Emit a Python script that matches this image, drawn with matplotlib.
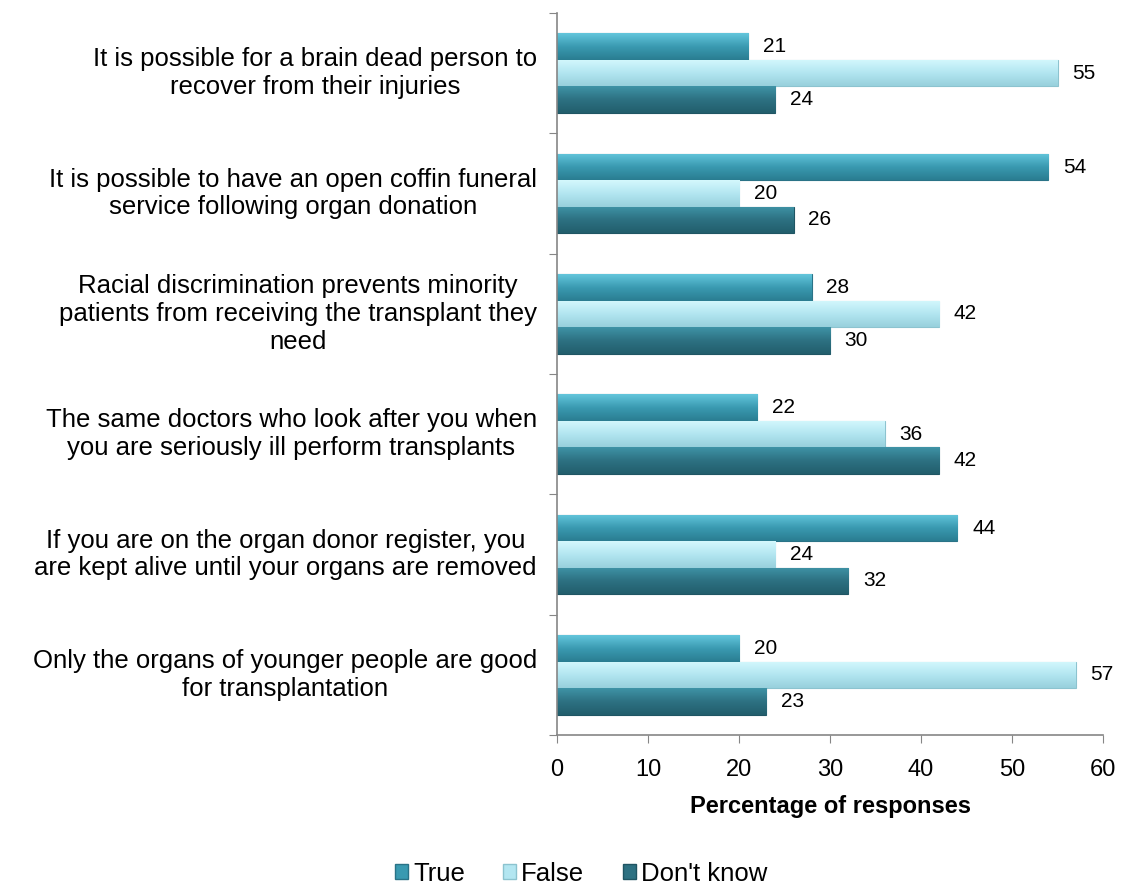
import numpy as np
import matplotlib.pyplot as plt
from matplotlib.patches import Patch
from matplotlib.colors import LinearSegmentedColormap

plt.rcParams['font.family'] = ['Liberation Sans', 'DejaVu Sans']

statements = [
    "It is possible for a brain dead person to\nrecover from their injuries",
    "It is possible to have an open coffin funeral\nservice following organ donation",
    "Racial discrimination prevents minority\npatients from receiving the transplant they\nneed",
    "The same doctors who look after you when\nyou are seriously ill perform transplants",
    "If you are on the organ donor register, you\nare kept alive until your organs are removed",
    "Only the organs of younger people are good\nfor transplantation",
]
true_vals = [21, 54, 28, 22, 44, 20]
false_vals = [55, 20, 42, 36, 24, 57]
dontknow_vals = [24, 26, 30, 42, 32, 23]
series_names = ["True", "False", "Don't know"]

colors = ['#3a9ab1', '#b3e6f1', '#2d7182']
tops = ['#63c6dc', '#d4f8fd', '#3f93a6']
bottoms = ['#2a7d91', '#98d0dc', '#225e6c']
edges = ['#2a7387', '#8cc3cf', '#1f5563']

fig = plt.figure(figsize=(11.24, 8.86), dpi=100)
ax = fig.add_axes([0.4956, 0.1704, 0.4858, 0.8149])

y = np.arange(len(statements))
h = 0.22
grad = np.linspace(0, 1, 64).reshape(-1, 1)
for k, vals in enumerate([true_vals, false_vals, dontknow_vals]):
    pos = y + (k - 1) * h
    cmap = LinearSegmentedColormap.from_list('g%d' % k,
                                             [tops[k], colors[k], bottoms[k]])
    bars = ax.barh(pos, vals, height=h, color=colors[k], edgecolor=edges[k],
                   linewidth=0.8)
    for bar, p, v in zip(bars, pos, vals):
        # vertical gradient clipped to the bar
        im = ax.imshow(grad, cmap=cmap, aspect='auto', origin='lower',
                       extent=[0, v, p - h / 2, p + h / 2], zorder=2)
        im.set_clip_path(bar)
        ax.text(v + 1.6, p, str(v), va='center', ha='left', fontsize=15)

ax.set_ylim(len(statements) - 0.5, -0.5)
ax.set_xlim(0, 60)
ax.set_xticks(range(0, 61, 10))
ax.tick_params(axis='x', labelsize=17, length=6, color='#868686', pad=11)
ax.set_yticks(np.arange(-0.5, len(statements), 1.0))
ax.set_yticklabels([])
ax.tick_params(axis='y', length=6, color='#868686')
for s in ['top', 'right']:
    ax.spines[s].set_visible(False)
for s in ['left', 'bottom']:
    ax.spines[s].set_color('#868686')
    ax.spines[s].set_linewidth(1.2)

# statement labels: right edge near the axis, lines centred within the block
for i, txt in enumerate(statements):
    ax.text(-0.037, i, txt, transform=ax.get_yaxis_transform(),
            ha='right', va='center', multialignment='center',
            fontsize=18.5, linespacing=1.2)

ax.set_xlabel('Percentage of responses', fontsize=17, fontweight='bold',
              labelpad=10)

handles = [Patch(facecolor=colors[k], edgecolor=edges[k]) for k in range(3)]
fig.legend(handles, series_names, loc='center', bbox_to_anchor=(0.517, 0.014),
           ncol=3, frameon=False, fontsize=18.5, handlelength=0.5,
           handleheight=0.5, handletextpad=0.2, columnspacing=1.5,
           borderpad=0)

fig.savefig('out.png', dpi=100)
